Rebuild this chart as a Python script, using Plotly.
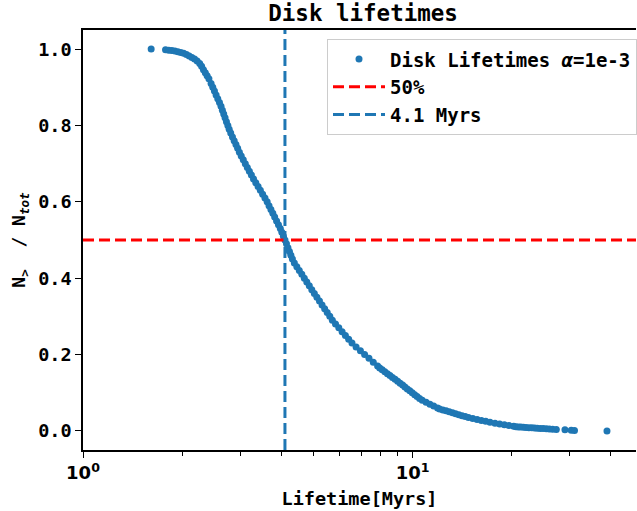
import plotly.graph_objects as go

# ---- data ----
LIFETIMES = [
    1.61, 1.78, 1.82, 1.86, 1.90, 1.94, 1.98, 2.02, 2.06, 2.10, 2.14, 2.18, 2.22,
    2.26, 2.29, 2.32, 2.35, 2.38, 2.41, 2.447, 2.476, 2.505, 2.534, 2.564, 2.595,
    2.623, 2.648, 2.673, 2.698, 2.724, 2.751, 2.777, 2.807, 2.841, 2.875, 2.911,
    2.946, 2.982, 3.021, 3.064, 3.108, 3.152, 3.197, 3.243, 3.291, 3.344, 3.398,
    3.452, 3.508, 3.565, 3.620, 3.668, 3.717, 3.767, 3.816, 3.867, 3.918, 3.969,
    4.012, 4.056, 4.100, 4.143, 4.186, 4.230, 4.274, 4.319, 4.378, 4.455, 4.532,
    4.613, 4.694, 4.776, 4.860, 4.946, 5.034, 5.125, 5.218, 5.313, 5.410, 5.508,
    5.608, 5.710, 5.837, 5.973, 6.112, 6.254, 6.400, 6.549, 6.740, 6.947, 7.154,
    7.375, 7.600, 7.833, 7.95, 8.09, 8.24, 8.39, 8.54, 8.69, 8.85, 9.01, 9.17,
    9.33, 9.48, 9.64, 9.81, 9.98, 10.15, 10.32, 10.50, 10.70, 10.99, 11.29, 11.59,
    11.91, 12.08, 12.36, 12.64, 12.92, 13.22, 13.51, 13.82, 14.13, 14.45, 14.78,
    15.23, 15.70, 16.18, 16.67, 17.18, 17.79, 18.38, 18.99, 19.61, 20.27, 20.6,
    20.95, 21.3, 21.7, 22.1, 22.55, 23.0, 23.45, 23.9, 24.4, 24.9, 25.45, 26.0,
    26.6, 27.3, 29.0, 30.3, 31.0, 38.9,
]
FRACTIONS = [
    1.000, 0.998, 0.997, 0.996, 0.995, 0.993, 0.991, 0.989, 0.986, 0.982, 0.978, 0.974, 0.969,
    0.962, 0.955, 0.946, 0.938, 0.930, 0.922, 0.91, 0.90, 0.89, 0.88, 0.87, 0.86,
    0.85, 0.84, 0.83, 0.82, 0.81, 0.80, 0.79, 0.78, 0.77, 0.76, 0.75,
    0.74, 0.73, 0.72, 0.71, 0.70, 0.69, 0.68, 0.67, 0.66, 0.65, 0.64,
    0.63, 0.62, 0.61, 0.60, 0.59, 0.58, 0.57, 0.56, 0.55, 0.54, 0.53,
    0.52, 0.51, 0.50, 0.49, 0.48, 0.47, 0.46, 0.45, 0.44, 0.43, 0.42,
    0.41, 0.40, 0.39, 0.38, 0.37, 0.36, 0.35, 0.34, 0.33, 0.32, 0.31,
    0.30, 0.29, 0.28, 0.27, 0.26, 0.25, 0.24, 0.23, 0.22, 0.21, 0.20,
    0.19, 0.18, 0.17, 0.165, 0.160, 0.155, 0.150, 0.145, 0.140, 0.135, 0.130, 0.125,
    0.120, 0.115, 0.110, 0.105, 0.100, 0.095, 0.090, 0.085, 0.080, 0.075, 0.070, 0.065,
    0.060, 0.0575, 0.055, 0.0525, 0.050, 0.0475, 0.045, 0.0425, 0.040, 0.0375, 0.035,
    0.0325, 0.030, 0.0275, 0.025, 0.0225, 0.020, 0.018, 0.016, 0.014, 0.012, 0.011,
    0.0105, 0.010, 0.0095, 0.009, 0.0085, 0.008, 0.0075, 0.007, 0.0065, 0.006, 0.0055, 0.005,
    0.0045, 0.004, 0.003, 0.002, 0.001, 0.000,
]
HALF_LEVEL = 0.5
MEDIAN_LIFETIME = 4.1

Y_TICKS = [0.0, 0.2, 0.4, 0.6, 0.8, 1.0]
Y_TICK_TEXT = ["0.0", "0.2", "0.4", "0.6", "0.8", "1.0"]
X_TICKS = [1, 10]
X_TICK_TEXT = ["10<sup>0</sup>", "10<sup>1</sup>"]
X_MINOR = [2, 3, 4, 5, 6, 7, 8, 9, 20, 30, 40]

BLUE = "#1f77b4"
RED = "#ff0000"
FONT = "DejaVu Sans Mono"
DASH = "11px,5px"

fig = go.Figure()
fig.add_trace(go.Scatter(
    x=LIFETIMES, y=FRACTIONS, mode="markers",
    marker=dict(color=BLUE, size=7, line=dict(width=0)),
    name="Disk Lifetimes <i>α</i>=1e-3",
))
fig.add_trace(go.Scatter(
    x=[None], y=[None], mode="lines",
    line=dict(color=RED, width=3, dash=DASH), name="50%",
))
fig.add_trace(go.Scatter(
    x=[None], y=[None], mode="lines",
    line=dict(color=BLUE, width=3, dash=DASH), name="4.1 Myrs",
))

fig.add_shape(type="line", xref="x domain", yref="y", x0=0, x1=1,
              y0=HALF_LEVEL, y1=HALF_LEVEL,
              line=dict(color=RED, width=3, dash=DASH))
fig.add_shape(type="line", xref="x", yref="y domain", x0=MEDIAN_LIFETIME, x1=MEDIAN_LIFETIME,
              y0=0, y1=1, line=dict(color=BLUE, width=3, dash=DASH))

fig.update_layout(
    width=637, height=511,
    margin=dict(l=83, r=0, t=30, b=61),
    paper_bgcolor="white", plot_bgcolor="white",
    font=dict(family=FONT, size=18, color="black", weight="bold"),
    title=dict(text="Disk lifetimes", x=0.57, xanchor="center", y=0.975, yanchor="middle",
               font=dict(size=22.5, family=FONT, weight="bold")),
    showlegend=True,
    legend=dict(x=0.441, y=0.978, xanchor="left", yanchor="top",
                bgcolor="white", bordercolor="#cccccc", borderwidth=1,
                font=dict(size=19, family=FONT, weight="bold"),
                itemwidth=52, tracegroupgap=0),
)
fig.update_xaxes(
    type="log", range=[0, 1.678],
    showline=True, linecolor="black", linewidth=1.5, mirror=True,
    showgrid=False, zeroline=False,
    tickmode="array", tickvals=X_TICKS, ticktext=X_TICK_TEXT,
    tickfont=dict(family="DejaVu Sans", size=18, weight="bold"),
    ticks="outside", ticklen=6, tickwidth=1.2, tickcolor="black",
    minor=dict(tickmode="array", tickvals=X_MINOR, ticks="outside", ticklen=4,
               tickwidth=1, tickcolor="black", showgrid=False),
    title=dict(text="Lifetime[Myrs]", standoff=10,
               font=dict(family=FONT, size=18.5, weight="bold")),
)
fig.update_yaxes(
    range=[-0.05, 1.05],
    showline=True, linecolor="black", linewidth=1.5, mirror=False,
    showgrid=False, zeroline=False,
    tickmode="array", tickvals=Y_TICKS, ticktext=Y_TICK_TEXT,
    tickfont=dict(family=FONT, size=18.5, weight="bold"),
    ticks="outside", ticklen=6, tickwidth=1.2, tickcolor="black",
    title=dict(text="N<sub>></sub>  / N<sub><i>tot</i></sub>", standoff=8,
               font=dict(family=FONT, size=18, weight="bold")),
)

fig.write_html("out.html")
